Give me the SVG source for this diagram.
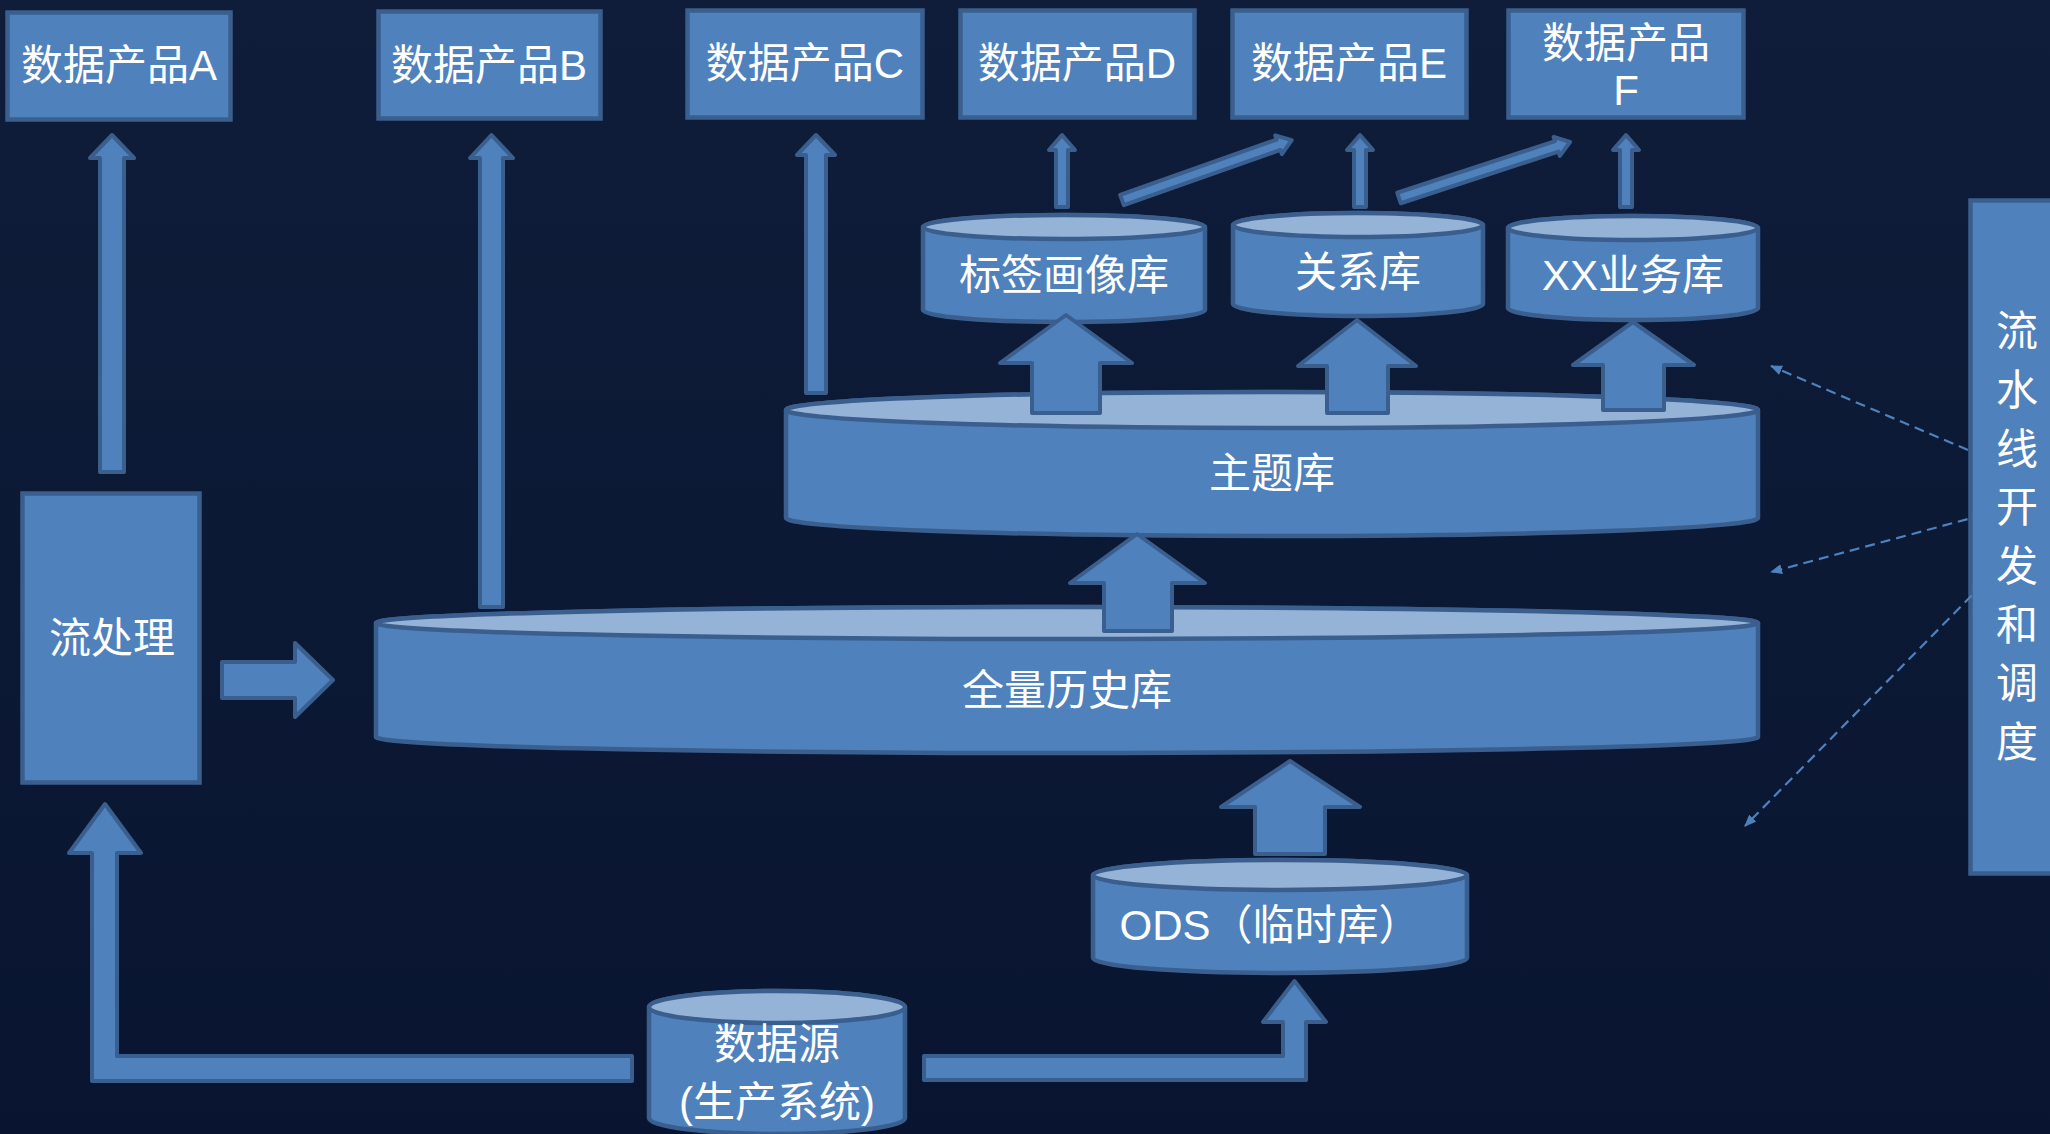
<svg xmlns="http://www.w3.org/2000/svg" width="2050" height="1134" viewBox="0 0 2050 1134">
<defs>
<linearGradient id="bg" x1="0" y1="0" x2="0" y2="1">
<stop offset="0" stop-color="#0f1d3a"/>
<stop offset="1" stop-color="#091530"/>
</linearGradient>
<marker id="dh" viewBox="0 0 12 10" refX="11" refY="5" markerWidth="12" markerHeight="10" markerUnits="userSpaceOnUse" orient="auto">
<path d="M0,0 L12,5 L0,10 Z" fill="#4f81bd"/>
</marker>
<style>
.box{fill:#4f81bd;stroke:#3a5f8e;stroke-width:4.5}
.body{fill:#4f81bd;stroke:#3a5f8e;stroke-width:4.5}
.top{fill:#95b3d7;stroke:#3a5f8e;stroke-width:4.5}
.arr{fill:#4f81bd;stroke:#3a5f8e;stroke-width:4;stroke-linejoin:round}
.dash{fill:none;stroke:#4f81bd;stroke-width:2.2;stroke-dasharray:10 6}
text{fill:#ffffff;font-family:"Liberation Sans","Noto Sans CJK SC",sans-serif;font-size:42px;text-anchor:middle}
</style>
</defs>
<rect x="0" y="0" width="2050" height="1134" fill="url(#bg)"/>

<g id="nodes">
<g id="productA"><rect class="box" x="7.5" y="12.5" width="223" height="107"/><text x="119" y="80">数据产品A</text></g>
<g id="productB"><rect class="box" x="378.5" y="11.5" width="222" height="107"/><text x="489" y="80">数据产品B</text></g>
<g id="productC"><rect class="box" x="687.5" y="10.5" width="235" height="107"/><text x="805" y="78">数据产品C</text></g>
<g id="productD"><rect class="box" x="960.5" y="10.5" width="234" height="107"/><text x="1077" y="78">数据产品D</text></g>
<g id="productE"><rect class="box" x="1232.5" y="10.5" width="234" height="107"/><text x="1349" y="78">数据产品E</text></g>
<g id="productF"><rect class="box" x="1508.5" y="10.5" width="235" height="107"/><text x="1626" y="58">数据产品</text><text x="1626" y="105">F</text></g>

<g id="stream"><rect class="box" x="22.5" y="493.5" width="177" height="289"/><text x="112" y="653">流处理</text></g>

<g id="pipeline"><rect class="box" x="1970.5" y="200.5" width="100" height="673"/>
<text x="2017" y="346">流</text>
<text x="2017" y="405">水</text>
<text x="2017" y="464">线</text>
<text x="2017" y="522">开</text>
<text x="2017" y="581">发</text>
<text x="2017" y="640">和</text>
<text x="2017" y="698">调</text>
<text x="2017" y="757">度</text>
</g>

<g id="tagdb">
<path class="body" d="M923,227 V310 A141,12 0 0 0 1205,310 V227 A141,12 0 0 0 923,227 Z"/>
<ellipse class="top" cx="1064" cy="227" rx="141" ry="12"/>
<text x="1064" y="290">标签画像库</text>
</g>
<g id="reldb">
<path class="body" d="M1233,225 V304 A125,12 0 0 0 1483,304 V225 A125,12 0 0 0 1233,225 Z"/>
<ellipse class="top" cx="1358" cy="225" rx="125" ry="12"/>
<text x="1358" y="287">关系库</text>
</g>
<g id="bizdb">
<path class="body" d="M1508,228 V308 A125,12 0 0 0 1758,308 V228 A125,12 0 0 0 1508,228 Z"/>
<ellipse class="top" cx="1633" cy="228" rx="125" ry="12"/>
<text x="1633" y="290">XX业务库</text>
</g>
<g id="themedb">
<path class="body" d="M786,410 V518 A486,18 0 0 0 1758,518 V410 A486,18 0 0 0 786,410 Z"/>
<ellipse class="top" cx="1272" cy="410" rx="486" ry="18"/>
<text x="1272" y="488">主题库</text>
</g>
<g id="historydb">
<path class="body" d="M376,623 V737 A691,16 0 0 0 1758,737 V623 A691,16 0 0 0 376,623 Z"/>
<ellipse class="top" cx="1067" cy="623" rx="691" ry="16"/>
<text x="1067" y="705">全量历史库</text>
</g>
<g id="ods">
<path class="body" d="M1093,875 V958 A187,15 0 0 0 1467,958 V875 A187,15 0 0 0 1093,875 Z"/>
<ellipse class="top" cx="1280" cy="875" rx="187" ry="15"/>
<text x="1270" y="940">ODS（临时库）</text>
</g>
<g id="source">
<path class="body" d="M649,1007 V1118 A128,16 0 0 0 905,1118 V1007 A128,16 0 0 0 649,1007 Z"/>
<ellipse class="top" cx="777" cy="1007" rx="128" ry="16"/>
<text x="777" y="1059">数据源</text>
<text x="777" y="1117">(生产系统)</text>
</g>
</g>

<g id="connectors">
<polygon class="arr" points="112,135 134,158 124,158 124,472 100,472 100,158 90,158"/>
<polygon class="arr" points="491.5,135 513,158 503,158 503,607 480,607 480,158 470,158"/>
<polygon class="arr" points="816,135 835,155 826,155 826,393 806,393 806,155 797,155"/>
<polygon class="arr" points="1062,135 1075,150 1068,150 1068,207 1056,207 1056,150 1049,150"/>
<polygon class="arr" points="1360,135 1373,150 1366,150 1366,207 1354,207 1354,150 1347,150"/>
<polygon class="arr" points="1626,135 1639,150 1632,150 1632,207 1620,207 1620,150 1613,150"/>
<polygon class="arr" transform="translate(1122,200) rotate(-19.44)" points="0,-5.5 166,-5.5 166,-10 180,0 166,10 166,5.5 0,5.5"/>
<polygon class="arr" transform="translate(1399,198) rotate(-18.13)" points="0,-5.5 166,-5.5 166,-10 180,0 166,10 166,5.5 0,5.5"/>

<polygon class="arr" points="1066,315 1132,363 1100,363 1100,413 1032,413 1032,363 1000,363"/>
<polygon class="arr" points="1357,320 1416,366 1388,366 1388,413 1327,413 1327,366 1298,366"/>
<polygon class="arr" points="1633,322 1694,365 1664,365 1664,410 1603,410 1603,365 1573,365"/>
<polygon class="arr" points="1137,534 1205,583 1172,583 1172,631 1104,631 1104,583 1070,583"/>
<polygon class="arr" points="1290,761 1360,807 1325,807 1325,854 1255,854 1255,807 1221,807"/>
<polygon class="arr" points="222,662 295,662 295,643 333,680 295,717 295,698 222,698"/>

<polygon class="arr" points="105,804 141,853 117,853 117,1056 632,1056 632,1081 92,1081 92,853 69,853"/>
<polygon class="arr" points="924,1056 1283,1056 1283,1022 1263,1022 1294.5,981 1326,1022 1306,1022 1306,1080 924,1080"/>

<line class="dash" x1="1968" y1="450" x2="1771" y2="366" marker-end="url(#dh)"/>
<line class="dash" x1="1983" y1="515" x2="1771" y2="572" marker-end="url(#dh)"/>
<line class="dash" x1="1983" y1="584" x2="1745" y2="826" marker-end="url(#dh)"/>
</g>
</svg>
